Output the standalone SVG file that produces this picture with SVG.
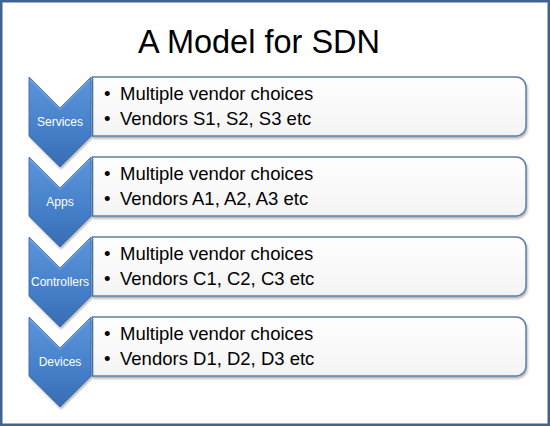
<svg xmlns="http://www.w3.org/2000/svg" width="550" height="426" viewBox="0 0 550 426">
  <defs>
    <linearGradient id="chev" x1="0" y1="0" x2="0" y2="1">
      <stop offset="0" stop-color="#5d96dc"/>
      <stop offset="0.5" stop-color="#4883cb"/>
      <stop offset="1" stop-color="#376db5"/>
    </linearGradient>
    <linearGradient id="boxfill" x1="0" y1="0" x2="0" y2="1">
      <stop offset="0" stop-color="#ffffff"/>
      <stop offset="1" stop-color="#f4f4f4"/>
    </linearGradient>
    <filter id="shadow" x="-5%" y="-10%" width="110%" height="130%">
      <feGaussianBlur in="SourceAlpha" stdDeviation="1.2"/>
      <feOffset dx="0.5" dy="1.5" result="b"/>
      <feComponentTransfer><feFuncA type="linear" slope="0.3"/></feComponentTransfer>
      <feMerge><feMergeNode/><feMergeNode in="SourceGraphic"/></feMerge>
    </filter>
  </defs>
  <style>
    .chev { fill: url(#chev); stroke: #3866a6; stroke-width: 0.8; }
    .bevel { fill: none; stroke: #7aaae4; stroke-width: 1.2; stroke-opacity: 0.7; }
    .box { fill: url(#boxfill); stroke: #5a7fb2; stroke-width: 1.5; }
    .lbl { font-family: "Liberation Sans", Arial, sans-serif; font-size: 12px; fill: #ffffff; text-anchor: middle; }
    .txt { font-family: "Liberation Sans", Arial, sans-serif; font-size: 18.5px; fill: #000000; }
    .title { font-family: "Liberation Sans", Arial, sans-serif; font-size: 32.5px; fill: #000000; text-anchor: middle; }
  </style>
  <rect x="1.25" y="1.25" width="547.5" height="423.5" fill="#ffffff" stroke="#3f6494" stroke-width="2.5"/>
  <text class="title" x="259" y="53">A Model for SDN</text>

  <g id="connectors"></g>

  <g id="services">
    <path class="box" filter="url(#shadow)" d="M92.5,77 H516 A10,10 0 0 1 526,87 V126 A10,10 0 0 1 516,136 H92.5 Z"/>
    <path class="chev" filter="url(#shadow)" d="M29,77 L60,108 L91,77 L91,136 L60,167 L29,136 Z"/>
    <path class="bevel" d="M30.5,80 L60,109.5 L89.5,80"/>
    <text class="lbl" x="60" y="126">Services</text>
    <text class="txt" y="100"><tspan x="104">•</tspan><tspan x="120">Multiple vendor choices</tspan></text>
    <text class="txt" y="125"><tspan x="104">•</tspan><tspan x="120">Vendors S1, S2, S3 etc</tspan></text>
  </g>

  <g id="apps" transform="translate(0,80)">
    <path class="box" filter="url(#shadow)" d="M92.5,77 H516 A10,10 0 0 1 526,87 V126 A10,10 0 0 1 516,136 H92.5 Z"/>
    <path class="chev" filter="url(#shadow)" d="M29,77 L60,108 L91,77 L91,136 L60,167 L29,136 Z"/>
    <path class="bevel" d="M30.5,80 L60,109.5 L89.5,80"/>
    <text class="lbl" x="60" y="126">Apps</text>
    <text class="txt" y="100"><tspan x="104">•</tspan><tspan x="120">Multiple vendor choices</tspan></text>
    <text class="txt" y="125"><tspan x="104">•</tspan><tspan x="120">Vendors A1, A2, A3 etc</tspan></text>
  </g>

  <g id="controllers" transform="translate(0,160)">
    <path class="box" filter="url(#shadow)" d="M92.5,77 H516 A10,10 0 0 1 526,87 V126 A10,10 0 0 1 516,136 H92.5 Z"/>
    <path class="chev" filter="url(#shadow)" d="M29,77 L60,108 L91,77 L91,136 L60,167 L29,136 Z"/>
    <path class="bevel" d="M30.5,80 L60,109.5 L89.5,80"/>
    <text class="lbl" x="60" y="126">Controllers</text>
    <text class="txt" y="100"><tspan x="104">•</tspan><tspan x="120">Multiple vendor choices</tspan></text>
    <text class="txt" y="125"><tspan x="104">•</tspan><tspan x="120">Vendors C1, C2, C3 etc</tspan></text>
  </g>

  <g id="devices" transform="translate(0,240)">
    <path class="box" filter="url(#shadow)" d="M92.5,77 H516 A10,10 0 0 1 526,87 V126 A10,10 0 0 1 516,136 H92.5 Z"/>
    <path class="chev" filter="url(#shadow)" d="M29,77 L60,108 L91,77 L91,136 L60,167 L29,136 Z"/>
    <path class="bevel" d="M30.5,80 L60,109.5 L89.5,80"/>
    <text class="lbl" x="60" y="126">Devices</text>
    <text class="txt" y="100"><tspan x="104">•</tspan><tspan x="120">Multiple vendor choices</tspan></text>
    <text class="txt" y="125"><tspan x="104">•</tspan><tspan x="120">Vendors D1, D2, D3 etc</tspan></text>
  </g>
</svg>
